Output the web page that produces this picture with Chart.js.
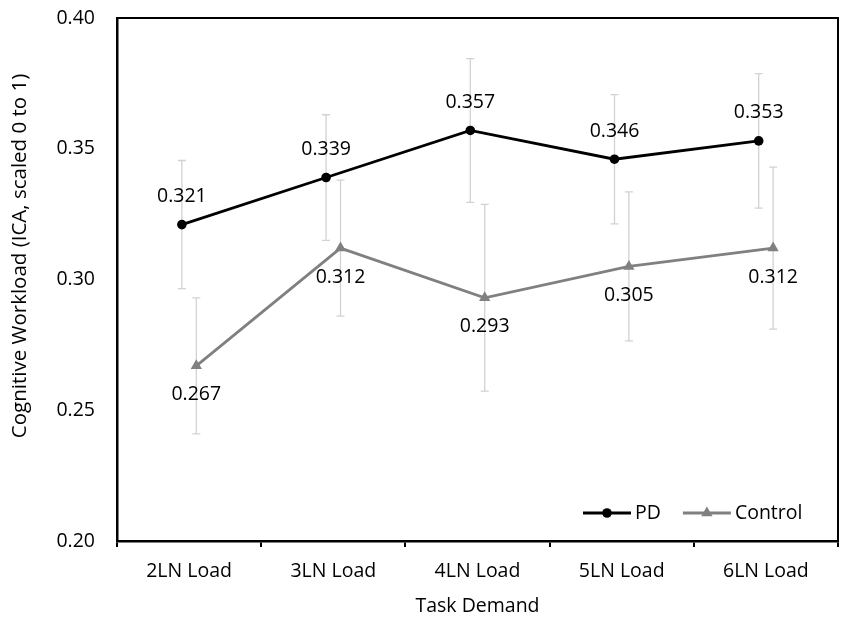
<!DOCTYPE html>
<html>
<head>
<meta charset="utf-8">
<script src="https://cdn.jsdelivr.net/npm/chart.js"></script>
<style>
  html, body { margin: 0; padding: 0; background: #fff; }
  #wrap { width: 850px; height: 624px; }
</style>
</head>
<body>
<div id="wrap"><canvas id="chart-canvas" width="850" height="624"></canvas></div>
<script>
const categories = ["2LN Load", "3LN Load", "4LN Load", "5LN Load", "6LN Load"];
const pdValues = [0.321, 0.339, 0.357, 0.346, 0.353];
const pdErrors = [0.0245, 0.024, 0.0275, 0.0247, 0.0257];
const controlValues = [0.267, 0.312, 0.293, 0.305, 0.312];
const controlErrors = [0.026, 0.026, 0.0357, 0.0285, 0.031];
const yTicks = [0.20, 0.25, 0.30, 0.35, 0.40];
const yTitle = "Cognitive Workload (ICA, scaled 0 to 1)";

const FONT = "'Open Sans', sans-serif";
const SIZE = 19.5;
const shift = 0.05; // side-by-side offset of the two series inside a category

function toPoints(values, dx) {
    return values.map((v, i) => ({ x: i + dx, y: v }));
}

// box round the plot area (top and right sides) + y title (sits a bit above centre in the original)
const frame = {
    id: "frame",
    afterDraw(chart) {
        const a = chart.chartArea, ctx = chart.ctx;
        ctx.save();
        ctx.strokeStyle = "#000";
        ctx.lineWidth = 2;
        ctx.beginPath();
        ctx.moveTo(a.left, a.top);
        ctx.lineTo(a.right, a.top);
        ctx.lineTo(a.right, a.bottom);
        ctx.stroke();

        ctx.translate(20, a.top + (a.bottom - a.top) * 0.455);
        ctx.rotate(-Math.PI / 2);
        ctx.font = "20.5px " + FONT;
        ctx.fillStyle = "#000";
        ctx.textAlign = "center";
        ctx.textBaseline = "middle";
        ctx.fillText(yTitle, 0, 0);
        ctx.restore();
    }
};

// error bars, drawn under the lines
const errorBars = {
    id: "errorBars",
    beforeDatasetsDraw(chart) {
        const ctx = chart.ctx, ys = chart.scales.y, xs = chart.scales.xv;
        ctx.save();
        ctx.strokeStyle = "#d2d2d2";
        ctx.lineWidth = 1.3;
        chart.data.datasets.forEach(ds => {
            ds.data.forEach((p, i) => {
                const x = xs.getPixelForValue(p.x);
                const top = ys.getPixelForValue(p.y + ds.errors[i]);
                const bot = ys.getPixelForValue(p.y - ds.errors[i]);
                ctx.beginPath();
                ctx.moveTo(x, top); ctx.lineTo(x, bot);
                ctx.moveTo(x - 4, top); ctx.lineTo(x + 4, top);
                ctx.moveTo(x - 4, bot); ctx.lineTo(x + 4, bot);
                ctx.stroke();
            });
        });
        ctx.restore();
    }
};

// value labels: above PD, below Control
const valueLabels = {
    id: "valueLabels",
    afterDatasetsDraw(chart) {
        const ctx = chart.ctx;
        ctx.save();
        ctx.font = SIZE + "px " + FONT;
        ctx.fillStyle = "#000";
        ctx.textAlign = "center";
        ctx.textBaseline = "middle";
        chart.data.datasets.forEach((ds, di) => {
            const meta = chart.getDatasetMeta(di);
            meta.data.forEach((el, i) => {
                const dy = ds.labelAbove ? -28 : 29;
                ctx.fillText(ds.data[i].y.toFixed(3), el.x, el.y + dy);
            });
        });
        ctx.restore();
    }
};

// legend inside the plot, bottom right
const insideLegend = {
    id: "insideLegend",
    afterDraw(chart) {
        const ctx = chart.ctx, a = chart.chartArea;
        let x = a.right - 255;
        const y = a.bottom - 28;
        ctx.save();
        ctx.font = SIZE + "px " + FONT;
        ctx.textBaseline = "middle";
        chart.data.datasets.forEach(ds => {
            ctx.strokeStyle = ds.borderColor;
            ctx.lineWidth = ds.borderWidth;
            ctx.beginPath();
            ctx.moveTo(x, y); ctx.lineTo(x + 48, y);
            ctx.stroke();
            ctx.fillStyle = ds.pointBackgroundColor;
            Chart.helpers.drawPoint(ctx, {
                pointStyle: ds.pointStyle, radius: ds.pointRadius, borderWidth: 0
            }, x + 24, y);
            ctx.fillStyle = "#000";
            ctx.fillText(ds.label, x + 52, y);
            x += 52 + ctx.measureText(ds.label).width + 22;
        });
        ctx.restore();
    }
};

new Chart(document.getElementById("chart-canvas").getContext("2d"), {
    type: "line",
    data: {
        datasets: [{
            label: "PD",
            data: toPoints(pdValues, -shift),
            errors: pdErrors,
            labelAbove: true,
            borderColor: "#000",
            backgroundColor: "#000",
            pointBackgroundColor: "#000",
            pointBorderWidth: 0,
            borderWidth: 2.8,
            pointStyle: "circle",
            pointRadius: 4.8,
            xAxisID: "xv"
        }, {
            label: "Control",
            data: toPoints(controlValues, shift),
            errors: controlErrors,
            labelAbove: false,
            borderColor: "#808080",
            backgroundColor: "#808080",
            pointBackgroundColor: "#808080",
            pointBorderWidth: 0,
            borderWidth: 2.8,
            pointStyle: "triangle",
            pointRadius: 6.5,
            xAxisID: "xv"
        }]
    },
    options: {
        responsive: false,
        animation: false,
        layout: { autoPadding: false, padding: { left: 0, top: 18, right: 12, bottom: 0 } },
        plugins: { legend: { display: false }, tooltip: { enabled: false } },
        scales: {
            x: {
                type: "category",
                labels: categories,
                offset: true,
                grid: { offset: true, drawOnChartArea: false, color: "#000", lineWidth: 2, tickLength: 6 },
                border: { color: "#000", width: 2.5 },
                ticks: { color: "#000", font: { family: FONT, size: SIZE }, padding: 13, maxRotation: 0 },
                title: { display: true, text: "Task Demand", color: "#000", font: { family: FONT, size: SIZE }, padding: { top: 0, bottom: 6 } },
                afterFit(scale) { scale.height = 83; scale.paddingLeft = 0; scale.paddingRight = 0; }
            },
            xv: {
                type: "linear",
                display: false,
                min: -0.5,
                max: categories.length - 0.5
            },
            y: {
                min: 0.20,
                max: 0.40,
                afterBuildTicks(scale) { scale.ticks = yTicks.map(v => ({ value: v })); },
                grid: { display: false, drawTicks: false },
                border: { color: "#000", width: 2.5 },
                ticks: { color: "#000", font: { family: FONT, size: SIZE }, padding: 22, callback: v => v.toFixed(2) },
                afterFit(scale) { scale.width = 117; scale.paddingTop = 0; scale.paddingBottom = 0; }
            }
        }
    },
    plugins: [frame, errorBars, valueLabels, insideLegend]
});
</script>
</body>
</html>
